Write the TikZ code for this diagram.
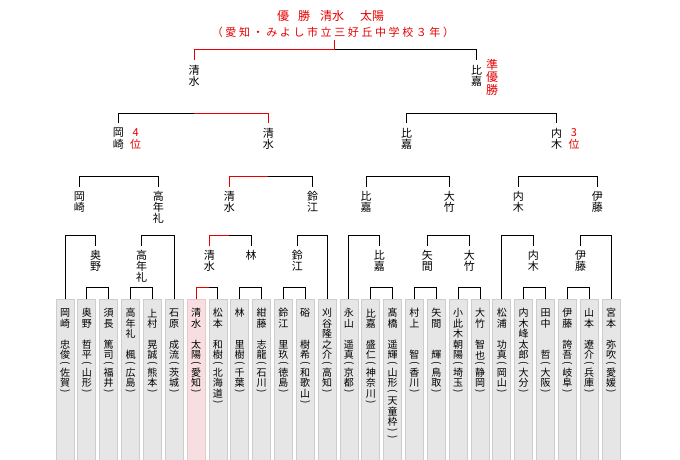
\documentclass[tikz,border=0pt]{standalone}
\usepackage{fontspec}
\usepackage{graphicx}
\setmainfont{Noto Sans CJK JP}
\definecolor{wred}{RGB}{230,0,0}
\definecolor{boxfill}{RGB}{230,230,230}
\definecolor{boxline}{RGB}{205,205,205}
\definecolor{pinkfill}{RGB}{247,222,224}
\definecolor{pinkline}{RGB}{232,200,202}
\newdimen\vcpitch
\def\vcloop#1{\ifx#1\relax\else\vcone{#1}\expandafter\vcloop\fi}
\def\vcone#1{\if#1(\vcparen{(}\else\if#1)\vcparen{)}\else\vcchar{#1}\fi\fi}
\def\vcchar#1{\hbox to 14pt{\hss\vbox to \vcpitch{\vss\hbox{#1}\vss}\hss}}
\def\vcparen#1{\hbox to 14pt{\hss\vbox to 7pt{\vss\hbox{\rotatebox[origin=c]{-90}{#1}}\vss}\hss}}
\newcommand\vstack[2][10.5pt]{\vbox{\offinterlineskip\vcpitch=#1\relax\vcloop#2\relax}}
\def\hcloop#1{\ifx#1\relax\else\hbox to 13.6pt{\hss#1\hss}\expandafter\hcloop\fi}
\newcommand\pcontent[1]{\vbox to 163pt{\vskip 8.5pt\hbox{\vstack[10.5pt]{#1}}\vss}}
\newcommand\lcontent[1]{\vbox{\vskip 4pt\hbox{\vstack[11pt]{#1}}}}
\newcommand\jcontent[1]{\vbox{\vskip 3pt\hbox{\vstack[12.5pt]{#1}}}}
\begin{document}
\begin{tikzpicture}[x=1pt,y=-1pt,
  pbox/.style={draw=boxline,fill=boxfill,line width=0.8pt,inner sep=0pt,minimum width=18pt,anchor=north,font=\fontsize{10}{10}\selectfont},
  wbox/.style={pbox,draw=pinkline,fill=pinkfill},
  lab/.style={inner sep=0pt,anchor=north,font=\fontsize{11}{11}\selectfont},
  rank/.style={lab,text=wred},
  ln/.style={line width=1pt,draw=black},
  win/.style={line width=1pt,draw=wred}]
\useasboundingbox[fill=white] (0,0) rectangle (680,460);

% title
\node[anchor=west,inner sep=0pt,text=wred,font=\fontsize{12}{12}\selectfont] (t1) at (277,16) {優\hspace{9pt}勝\hspace{10pt}清水\hspace{16pt}太陽};
\node[inner sep=0pt,text=wred,font=\fontsize{11}{11}\selectfont] (t2) at (333,32) {\hcloop （愛知・みよし市立三好丘中学校３年）\relax};
\coordinate (tv) at (334.3,40);

% player boxes
\node[pbox] (p1) at (65,299) {\pcontent{岡崎　忠俊(佐賀)}};
\node[pbox] (p2) at (86.8,299) {\pcontent{奥野　哲平(山形)}};
\node[pbox] (p3) at (108.7,299) {\pcontent{須長　篤司(福井)}};
\node[pbox] (p4) at (130.5,299) {\pcontent{高年礼　楓(広島)}};
\node[pbox] (p5) at (152.4,299) {\pcontent{上村　晃誠(熊本)}};
\node[pbox] (p6) at (174.2,299) {\pcontent{石原　成流(茨城)}};
\node[wbox] (p7) at (196,299) {\pcontent{清水　太陽(愛知)}};
\node[pbox] (p8) at (217.9,299) {\pcontent{松本　和樹(北海道)}};
\node[pbox] (p9) at (239.7,299) {\pcontent{林　　里樹(千葉)}};
\node[pbox] (p10) at (261.6,299) {\pcontent{紺藤　志龍(石川)}};
\node[pbox] (p11) at (283.4,299) {\pcontent{鈴江　里玖(徳島)}};
\node[pbox] (p12) at (305.2,299) {\pcontent{硲　　樹希(和歌山)}};
\node[pbox] (p13) at (327.1,299) {\pcontent{刈谷隆之介(高知)}};
\node[pbox] (p14) at (348.9,299) {\pcontent{永山　遥真(京都)}};
\node[pbox] (p15) at (370.8,299) {\pcontent{比嘉　盛仁(神奈川)}};
\node[pbox] (p16) at (392.6,299) {\pcontent{髙橋　遥輝(山形(天童枠))}};
\node[pbox] (p17) at (414.4,299) {\pcontent{村上　　智(香川)}};
\node[pbox] (p18) at (436.3,299) {\pcontent{矢間　　輝(鳥取)}};
\node[pbox] (p19) at (458.1,299) {\pcontent{小此木朝陽(埼玉)}};
\node[pbox] (p20) at (480,299) {\pcontent{大竹　智也(静岡)}};
\node[pbox] (p21) at (501.8,299) {\pcontent{松浦　功真(岡山)}};
\node[pbox] (p22) at (523.6,299) {\pcontent{内木峰太郎(大分)}};
\node[pbox] (p23) at (545.5,299) {\pcontent{田中　　哲(大阪)}};
\node[pbox] (p24) at (567.3,299) {\pcontent{伊藤　誇吾(岐阜)}};
\node[pbox] (p25) at (589.2,299) {\pcontent{山本　遼介(兵庫)}};
\node[pbox] (p26) at (611,299) {\pcontent{宮本　弥吹(愛媛)}};

% round labels
\node[lab] (a1) at (95.7,246) {\lcontent{奥野}};
\node[lab] (a2) at (141.7,246) {\lcontent{高年礼}};
\node[lab] (a3) at (209.3,246) {\lcontent{清水}};
\node[lab] (a4) at (251,246) {\lcontent{林}};
\node[lab] (a5) at (297.3,246) {\lcontent{鈴江}};
\node[lab] (a6) at (379.3,246) {\lcontent{比嘉}};
\node[lab] (a7) at (427.3,246) {\lcontent{矢間}};
\node[lab] (a8) at (469.3,246) {\lcontent{大竹}};
\node[lab] (a9) at (533.3,246) {\lcontent{内木}};
\node[lab] (a10) at (580.7,246) {\lcontent{伊藤}};

\node[lab] (b1) at (79.3,186.7) {\lcontent{岡崎}};
\node[lab] (b2) at (158.3,186.7) {\lcontent{高年礼}};
\node[lab] (b3) at (229.3,186.7) {\lcontent{清水}};
\node[lab] (b4) at (312.7,186.7) {\lcontent{鈴江}};
\node[lab] (b5) at (366,186.7) {\lcontent{比嘉}};
\node[lab] (b6) at (449.3,186.7) {\lcontent{大竹}};
\node[lab] (b7) at (518.3,186.7) {\lcontent{内木}};
\node[lab] (b8) at (597.3,186.7) {\lcontent{伊藤}};

\node[lab] (c1) at (118.3,123.3) {\lcontent{岡崎}};
\node[lab] (c2) at (268.3,123.3) {\lcontent{清水}};
\node[lab] (c3) at (406.7,123.3) {\lcontent{比嘉}};
\node[lab] (c4) at (556.7,123.3) {\lcontent{内木}};

\node[lab] (d1) at (194,60.5) {\lcontent{清水}};
\node[lab] (d2) at (476.7,60.5) {\lcontent{比嘉}};

% ranks
\node[rank] (k4) at (135.7,123.3) {\lcontent{4位}};
\node[rank] (k3) at (574,123.3) {\lcontent{3位}};
\node[rank,font=\fontsize{12}{12}\selectfont] (k2) at (492,55) {\jcontent{準優勝}};

% split coordinates
\coordinate (s1) at (95.7,287.7);
\coordinate (s2) at (141.7,287.7);
\coordinate (s3) at (209.3,287.7);
\coordinate (s4) at (251,287.7);
\coordinate (s5) at (297.3,287.7);
\coordinate (s6) at (379.3,287.7);
\coordinate (s7) at (427.3,287.7);
\coordinate (s8) at (469.3,287.7);
\coordinate (s9) at (533.3,287.7);
\coordinate (s10) at (580.7,287.7);

\coordinate (r1) at (79.3,235.7);
\coordinate (r2) at (158.3,235.7);
\coordinate (r3) at (229.3,235.7);
\coordinate (r4) at (312.7,235.7);
\coordinate (r5) at (366,235.7);
\coordinate (r6) at (449.3,235.7);
\coordinate (r7) at (518.3,235.7);
\coordinate (r8) at (597.3,235.7);

\coordinate (q1) at (118.3,176.7);
\coordinate (q2) at (268.3,176.7);
\coordinate (q3) at (406.7,176.7);
\coordinate (q4) at (556.7,176.7);

\coordinate (u1) at (194,113.3);
\coordinate (u2) at (476.7,113.3);

\coordinate (v1) at (334.3,50);

% first round
\draw[ln] (p2.north) |- (s1) -| (p3.north);
\draw[ln] (p4.north) |- (s2) -| (p5.north);
\draw[ln] (s3) -| (p8.north);
\draw[ln] (p9.north) |- (s4) -| (p10.north);
\draw[ln] (p11.north) |- (s5) -| (p12.north);
\draw[ln] (p15.north) |- (s6) -| (p16.north);
\draw[ln] (p17.north) |- (s7) -| (p18.north);
\draw[ln] (p19.north) |- (s8) -| (p20.north);
\draw[ln] (p22.north) |- (s9) -| (p23.north);
\draw[ln] (p24.north) |- (s10) -| (p25.north);

% second round
\draw[ln] (p1.north) |- (r1) -| (a1.north);
\draw[ln] (a2.north) |- (r2) -| (p6.north);
\draw[ln] (r3) -| (a4.north);
\draw[ln] (a5.north) |- (r4) -| (p13.north);
\draw[ln] (p14.north) |- (r5) -| (a6.north);
\draw[ln] (a7.north) |- (r6) -| (a8.north);
\draw[ln] (p21.north) |- (r7) -| (a9.north);
\draw[ln] (a10.north) |- (r8) -| (p26.north);

% third round
\draw[ln] (b1.north) |- (q1) -| (b2.north);
\draw[ln] (q2) -| (b4.north);
\draw[ln] (b5.north) |- (q3) -| (b6.north);
\draw[ln] (b7.north) |- (q4) -| (b8.north);

% semifinals
\draw[ln] (c1.north) |- (u1);
\draw[ln] (c3.north) |- (u2) -| (c4.north);

% final
\draw[ln] (v1) -| (d2.north);

% winner path
\draw[win] (p7.north) |- (s3);
\draw[win] (a3.north) |- (r3);
\draw[win] (b3.north) |- (q2);
\draw[win] (u1) -| (c2.north);
\draw[win] (d1.north) |- (v1);
\draw[win] (tv) -- (v1);
\end{tikzpicture}
\end{document}
